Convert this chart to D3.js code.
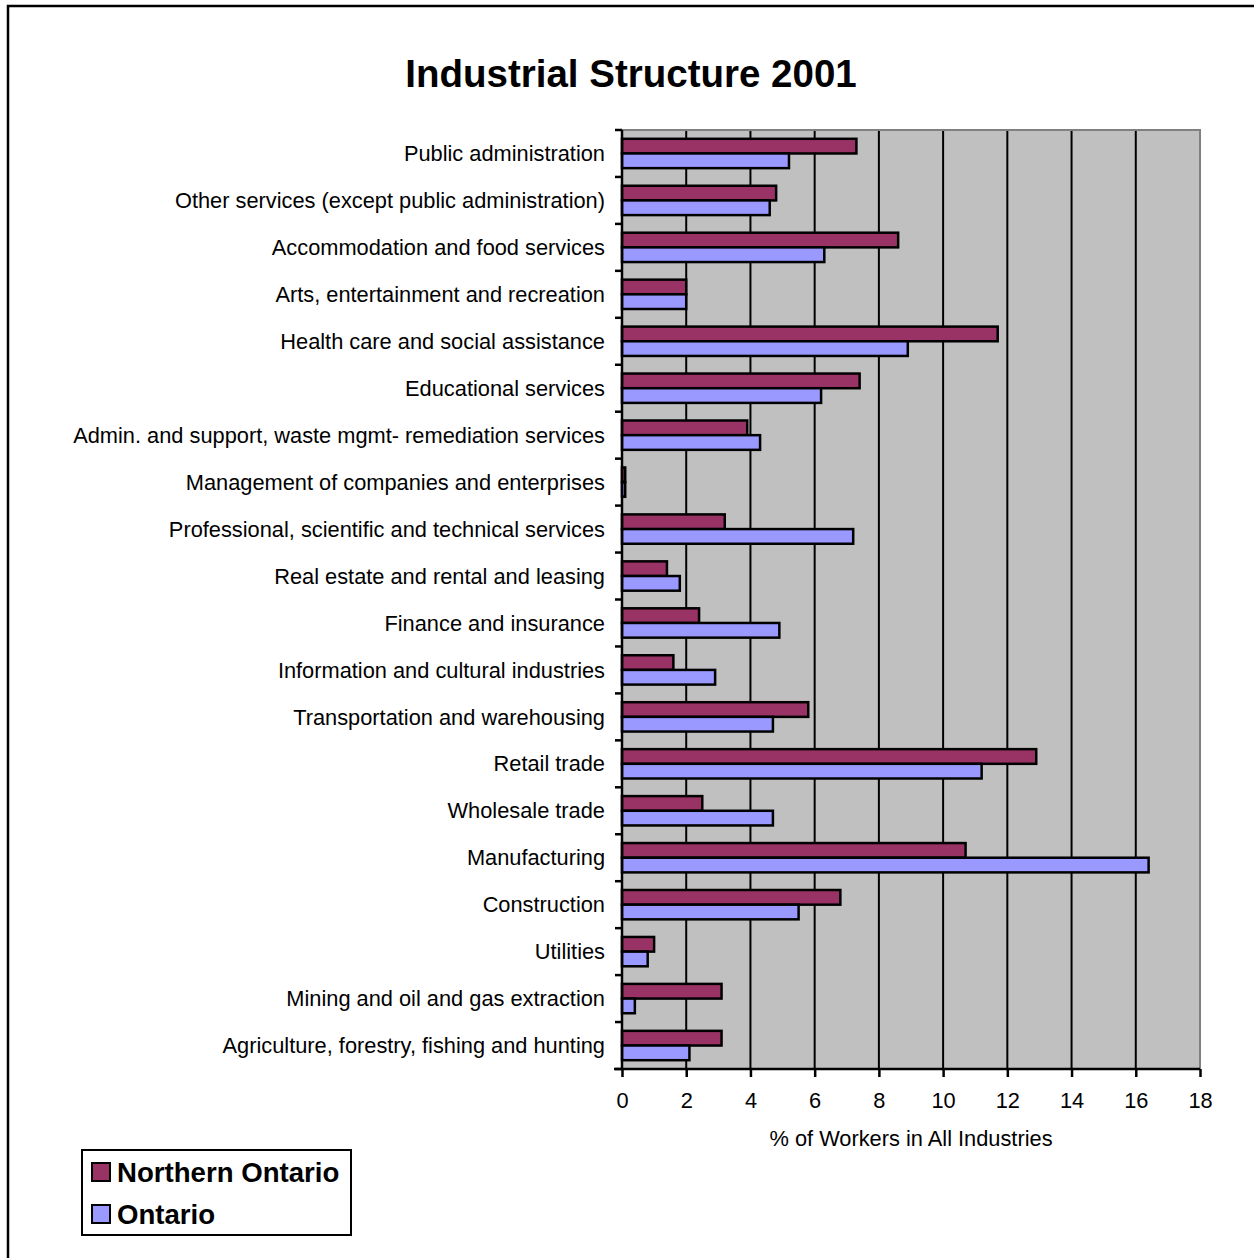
<!DOCTYPE html>
<html>
<head>
<meta charset="utf-8">
<script src="https://cdn.jsdelivr.net/npm/d3@7"></script>
<style>
  body { margin: 0; background: #fff; }
  text { font-family: "Liberation Sans", Arial, sans-serif; }
</style>
</head>
<body>
<div id="chart"></div>
<script>
// categories top to bottom, as drawn
const categories = [
    'Public administration',
    'Other services (except public administration)',
    'Accommodation and food services',
    'Arts, entertainment and recreation',
    'Health care and social assistance',
    'Educational services',
    'Admin. and support, waste mgmt- remediation services',
    'Management of companies and enterprises',
    'Professional, scientific and technical services',
    'Real estate and rental and leasing',
    'Finance and insurance',
    'Information and cultural industries',
    'Transportation and warehousing',
    'Retail trade',
    'Wholesale trade',
    'Manufacturing',
    'Construction',
    'Utilities',
    'Mining and oil and gas extraction',
    'Agriculture, forestry, fishing and hunting'
];
const northernOntario = [7.3, 4.8, 8.6, 2.0, 11.7, 7.4, 3.9, 0.1, 3.2, 1.4, 2.4, 1.6, 5.8, 12.9, 2.5, 10.7, 6.8, 1.0, 3.1, 3.1];
const ontario = [5.2, 4.6, 6.3, 2.0, 8.9, 6.2, 4.3, 0.1, 7.2, 1.8, 4.9, 2.9, 4.7, 11.2, 4.7, 16.4, 5.5, 0.8, 0.4, 2.1];
const seriesNames = ['Northern Ontario', 'Ontario'];
const seriesColors = ['#993366', '#9999FF'];
const xTicks = [0, 2, 4, 6, 8, 10, 12, 14, 16, 18];

const width = 1254, height = 1258;
const plot = { left: 622, right: 1200, top: 130, bottom: 1069 };

const svg = d3.select('#chart').append('svg')
    .attr('width', width)
    .attr('height', height);

// outer frame (only left/top visible in the original)
svg.append('rect')
    .attr('x', 8).attr('y', 6)
    .attr('width', 1300).attr('height', 1300)
    .attr('fill', 'none').attr('stroke', '#000').attr('stroke-width', 2.5);

svg.append('text')
    .attr('x', 631).attr('y', 87)
    .attr('text-anchor', 'middle')
    .attr('font-size', 38.5).attr('font-weight', 'bold')
    .text('Industrial Structure 2001');

const x = d3.scaleLinear().domain([0, 18]).range([plot.left, plot.right]);
const y = d3.scaleBand().domain(categories).range([plot.top, plot.bottom]);
const ySub = d3.scaleBand().domain(seriesNames).range([0, y.bandwidth()]).paddingOuter(0.6).paddingInner(0);

// plot background
svg.append('rect')
    .attr('x', plot.left).attr('y', plot.top)
    .attr('width', plot.right - plot.left).attr('height', plot.bottom - plot.top)
    .attr('fill', '#C0C0C0');

// vertical gridlines
svg.append('g').selectAll('line')
    .data(xTicks.slice(1, -1))
    .enter().append('line')
    .attr('x1', d => x(d)).attr('x2', d => x(d))
    .attr('y1', plot.top).attr('y2', plot.bottom)
    .attr('stroke', '#000').attr('stroke-width', 2);

// gray border on top/right
svg.append('path')
    .attr('d', `M${plot.left},${plot.top}H${plot.right}V${plot.bottom}`)
    .attr('fill', 'none').attr('stroke', '#808080').attr('stroke-width', 2);

// bars
const rows = categories.map((c, i) => ({ cat: c, vals: [northernOntario[i], ontario[i]] }));
const groups = svg.append('g').selectAll('g')
    .data(rows)
    .enter().append('g')
    .attr('transform', d => `translate(0,${y(d.cat)})`);

groups.selectAll('rect')
    .data(d => d.vals.map((v, j) => ({ v, s: seriesNames[j], c: seriesColors[j] })))
    .enter().append('rect')
    .attr('x', x(0))
    .attr('y', d => ySub(d.s))
    .attr('width', d => x(d.v) - x(0))
    .attr('height', ySub.bandwidth())
    .attr('fill', d => d.c)
    .attr('stroke', '#000').attr('stroke-width', 2.5);

// y axis
const yAxis = svg.append('g').attr('transform', `translate(${plot.left},0)`);
yAxis.append('line')
    .attr('y1', plot.top).attr('y2', plot.bottom)
    .attr('stroke', '#000').attr('stroke-width', 2.5);
yAxis.selectAll('.tick')
    .data(d3.range(categories.length + 1))
    .enter().append('line')
    .attr('x1', -7).attr('x2', 0)
    .attr('y1', i => plot.top + i * y.step()).attr('y2', i => plot.top + i * y.step())
    .attr('stroke', '#000').attr('stroke-width', 2.5);
yAxis.selectAll('text')
    .data(categories)
    .enter().append('text')
    .attr('x', -17)
    .attr('y', d => y(d) + y.bandwidth() / 2)
    .attr('dy', '0.35em')
    .attr('text-anchor', 'end')
    .attr('font-size', 21.8)
    .text(d => d);

// x axis
const xAxis = svg.append('g')
    .attr('transform', `translate(0,${plot.bottom})`)
    .call(d3.axisBottom(x).tickValues(xTicks).tickSize(8).tickPadding(16));
xAxis.select('.domain').attr('stroke', '#000').attr('stroke-width', 2.5)
    .attr('d', `M${plot.left - 8},0H${plot.right}`);
xAxis.selectAll('.tick line').attr('stroke', '#000').attr('stroke-width', 2.5);
xAxis.selectAll('.tick text')
    .attr('font-size', 21.8)
    .attr('font-family', '"Liberation Sans", Arial, sans-serif')
    .attr('fill', '#000');

svg.append('text')
    .attr('x', (plot.left + plot.right) / 2).attr('y', 1146)
    .attr('text-anchor', 'middle')
    .attr('font-size', 21.8)
    .text('% of Workers in All Industries');

// legend
const legend = svg.append('g');
legend.append('rect')
    .attr('x', 82).attr('y', 1150).attr('width', 269).attr('height', 85)
    .attr('fill', '#fff').attr('stroke', '#000').attr('stroke-width', 2);
const items = legend.selectAll('g')
    .data(seriesNames)
    .enter().append('g')
    .attr('transform', (d, i) => `translate(0,${1172 + i * 42})`);
items.append('rect')
    .attr('x', 92).attr('y', -9).attr('width', 18).attr('height', 18)
    .attr('fill', (d, i) => seriesColors[i])
    .attr('stroke', '#000').attr('stroke-width', 2);
items.append('text')
    .attr('x', 117).attr('dy', '0.36em')
    .attr('font-size', 27.6).attr('font-weight', 'bold')
    .text(d => d);
</script>
</body>
</html>
